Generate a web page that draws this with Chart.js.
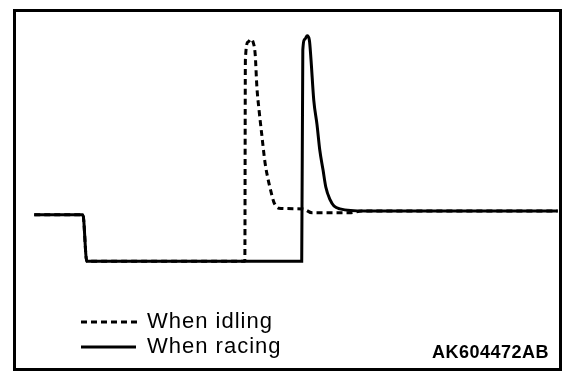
<!DOCTYPE html>
<html>
<head>
<meta charset="utf-8">
<script src="https://cdn.jsdelivr.net/npm/chart.js@4.4.1/dist/chart.umd.min.js"></script>
<style>
  html, body { margin: 0; padding: 0; background: #fff; }
  #wrap { width: 576px; height: 382px; position: relative; }
</style>
</head>
<body>
<div id="wrap"><canvas id="c" width="576" height="382"></canvas></div>
<script>
// Time axis (arbitrary units 0..100) and signal level (arbitrary units 0..10)
const raceX = [3.7, 12.6, 13.3, 52.6, 52.8, 53.2, 53.6, 54.0, 54.3, 54.8, 55.4, 55.9, 56.5, 57.0, 57.8, 58.5, 59.6, 64.2, 99.4];
const raceY = [4.3, 4.3, 3.0, 3.0, 8.89, 9.19, 9.28, 9.16, 8.61, 7.49, 6.80, 6.10, 5.54, 5.07, 4.71, 4.54, 4.46, 4.40, 4.40];

const idleX = [3.7, 12.6, 13.3, 42.2, 42.3, 42.8, 43.3, 43.7, 44.1, 44.4, 44.8, 45.2, 45.9, 46.4, 47.0, 47.5, 48.4, 52.8, 54.5, 61.4, 63.6, 99.4];
const idleY = [4.3, 4.3, 3.0, 3.0, 8.61, 9.11, 9.19, 9.11, 8.75, 7.86, 7.21, 6.66, 5.74, 5.32, 4.93, 4.65, 4.48, 4.46, 4.35, 4.35, 4.40, 4.40];

const seriesNames = ["When idling", "When racing"];
const figureCode = "AK604472AB";

const toPts = (xs, ys) => xs.map((x, i) => ({ x: x, y: ys[i] }));

const frameAndLegend = {
  id: 'frameAndLegend',
  afterDraw(chart) {
    const ctx = chart.ctx;
    const a = chart.chartArea;
    ctx.save();
    // frame
    ctx.strokeStyle = '#000';
    ctx.lineWidth = 3;
    ctx.setLineDash([]);
    ctx.strokeRect(a.left + 0.5, a.top + 0.5, a.right - a.left - 1, a.bottom - a.top);
    // legend
    const items = [
      { ds: chart.data.datasets[0], y: 322, x1: 81, x2: 141 },
      { ds: chart.data.datasets[1], y: 347, x1: 81, x2: 136 }
    ];
    items.forEach(it => {
      ctx.beginPath();
      ctx.lineWidth = it.ds.borderWidth;
      ctx.strokeStyle = it.ds.borderColor;
      ctx.setLineDash(it.ds.borderDash || []);
      ctx.moveTo(it.x1, it.y);
      ctx.lineTo(it.x2, it.y);
      ctx.stroke();
      ctx.setLineDash([]);
      ctx.fillStyle = '#000';
      ctx.font = '22px "Liberation Sans", Arial, sans-serif';
      if ('letterSpacing' in ctx) ctx.letterSpacing = '1px';
      ctx.textBaseline = 'alphabetic';
      ctx.textAlign = 'left';
      ctx.fillText(it.ds.label, 147, it.y + 6);
    });
    // figure code
    ctx.font = 'bold 18px "Liberation Sans", Arial, sans-serif';
    if ('letterSpacing' in ctx) ctx.letterSpacing = '0.5px';
    ctx.textAlign = 'right';
    ctx.fillText(figureCode, 549, 358);
    ctx.restore();
  }
};

new Chart(document.getElementById('c'), {
  type: 'line',
  data: {
    datasets: [
      {
        label: seriesNames[0],
        data: toPts(idleX, idleY),
        borderColor: '#000',
        borderWidth: 3,
        borderDash: [6, 4],
        pointRadius: 0,
        cubicInterpolationMode: 'monotone',
        fill: false,
        order: 1
      },
      {
        label: seriesNames[1],
        data: toPts(raceX, raceY),
        borderColor: '#000',
        borderWidth: 3,
        pointRadius: 0,
        cubicInterpolationMode: 'monotone',
        fill: false,
        order: 0
      }
    ]
  },
  options: {
    responsive: false,
    animation: false,
    devicePixelRatio: 1,
    layout: { padding: { left: 14, right: 15, top: 10, bottom: 13 } },
    scales: {
      x: { type: 'linear', min: 0, max: 100, display: false },
      y: { type: 'linear', min: 0, max: 10, display: false }
    },
    plugins: {
      legend: { display: false },
      tooltip: { enabled: false }
    }
  },
  plugins: [frameAndLegend]
});
</script>
</body>
</html>
